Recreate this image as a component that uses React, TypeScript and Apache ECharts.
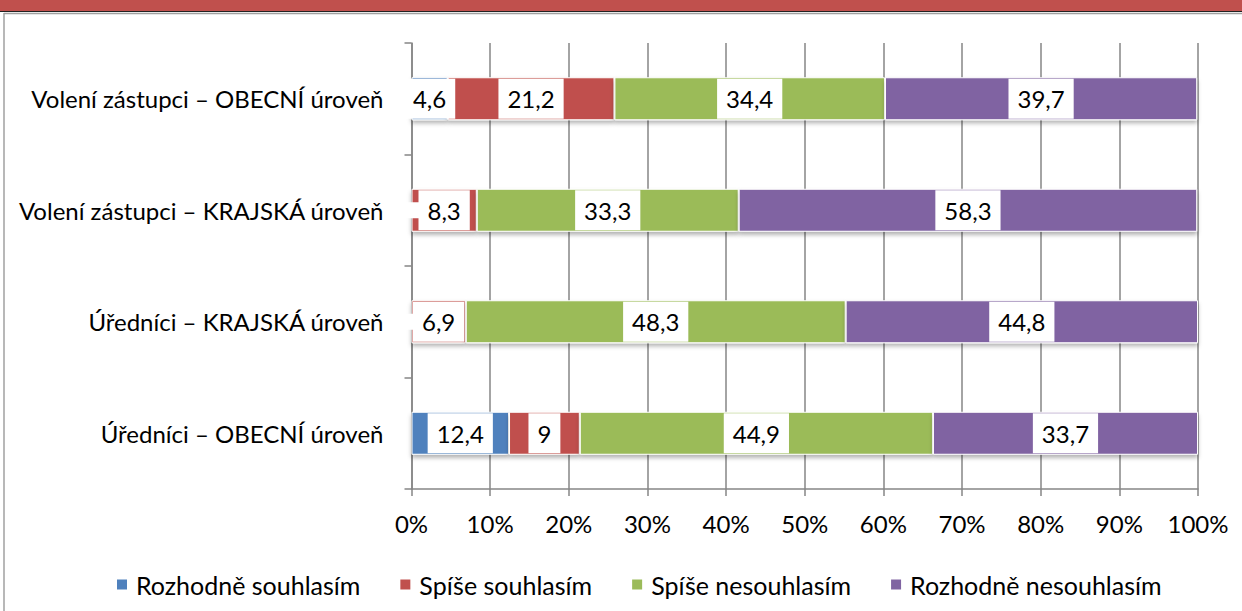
import React, { useEffect, useRef } from "react";
import * as echarts from "echarts";

const categories = [
  "Volení zástupci – OBECNÍ úroveň",
  "Volení zástupci – KRAJSKÁ úroveň",
  "Úředníci – KRAJSKÁ úroveň",
  "Úředníci – OBECNÍ úroveň",
];
const seriesNames = [
  "Rozhodně souhlasím",
  "Spíše souhlasím",
  "Spíše nesouhlasím",
  "Rozhodně nesouhlasím",
];
const rozhodneSouhlasim = [4.6, 0, 0, 12.4];
const spiseSouhlasim = [21.2, 8.3, 6.9, 9];
const spiseNesouhlasim = [34.4, 33.3, 48.3, 44.9];
const rozhodneNesouhlasim = [39.7, 58.3, 44.8, 33.7];
const colors = ["#4F81BD", "#C0504D", "#9BBB59", "#8064A2"];
const xTicks = [0, 10, 20, 30, 40, 50, 60, 70, 80, 90, 100];

const FONT = "Lato";
const FS = 24;

export default function App() {
  const ref = useRef<HTMLDivElement>(null);
  useEffect(() => {
    if (!ref.current) return;
    const chart = echarts.init(ref.current, null, { renderer: "svg" });
    const allData = [rozhodneSouhlasim, spiseSouhlasim, spiseNesouhlasim, rozhodneNesouhlasim];
    const series = allData.map((d, i) => ({
      name: seriesNames[i],
      type: "bar",
      stack: "total",
      barWidth: 43,
      data: d,
      itemStyle: {
        color: colors[i],
        borderColor: "#ffffff",
        borderWidth: 1,
        shadowColor: "rgba(0,0,0,0.3)",
        shadowBlur: 4,
        shadowOffsetY: 3,
      },
      label: {
        show: true,
        position: "inside",
        formatter: (p: any) => (p.value > 0 ? String(p.value).replace(".", ",") : ""),
        backgroundColor: "#ffffff",
        color: "#000000",
        fontFamily: FONT,
        fontSize: FS,
        lineHeight: 24,
        padding: [8, 9, 8, 9],
      },
    }));
    chart.setOption({
      animation: false,
      textStyle: { fontFamily: FONT },
      graphic: [
        { type: "rect", shape: { x: 0, y: 0, width: 1242, height: 11 }, style: { fill: "#C0504D" }, z: 100 },
        { type: "line", shape: { x1: 0, y1: 11.5, x2: 1242, y2: 11.5 }, style: { stroke: "#222", lineWidth: 1 }, z: 100 },
        { type: "line", shape: { x1: 4, y1: 13.5, x2: 1242, y2: 13.5 }, style: { stroke: "#A0A0A0", lineWidth: 1.5 }, z: 100 },
        { type: "line", shape: { x1: 4, y1: 13, x2: 4, y2: 611 }, style: { stroke: "#A0A0A0", lineWidth: 1.5 }, z: 100 },
      ],
      legend: {
        left: 110,
        top: 567,
        icon: "rect",
        itemWidth: 12,
        itemHeight: 12,
        itemGap: 38,
        data: seriesNames,
        textStyle: { fontFamily: FONT, fontSize: 25, color: "#000", padding: [0, 0, 0, 3] },
      },
      grid: { left: 411.5, right: 44, top: 43, bottom: 122 },
      xAxis: {
        type: "value",
        min: 0,
        max: 100,
        interval: 10,
        axisLabel: {
          formatter: (v: number) => (xTicks.includes(v) ? v + "%" : ""),
          fontFamily: FONT,
          fontSize: FS,
          color: "#000",
          margin: 22,
        },
        axisLine: { show: true, lineStyle: { color: "#868686", width: 1.5 } },
        axisTick: { show: true, length: 7, lineStyle: { color: "#868686", width: 1.5 } },
        splitLine: { show: true, lineStyle: { color: "#868686", width: 1.5 } },
      },
      yAxis: {
        type: "category",
        inverse: true,
        data: categories,
        axisLabel: { fontFamily: FONT, fontSize: FS, color: "#000", margin: 28 },
        axisLine: { show: true, lineStyle: { color: "#868686", width: 1.5 } },
        axisTick: { show: true, length: 7, lineStyle: { color: "#868686", width: 1.5 } },
      },
      series,
    });
    return () => chart.dispose();
  }, []);
  return (
    <div
      ref={ref}
      style={{ position: "fixed", left: 0, top: 0, width: 1242, height: 611, background: "#fff" }}
    />
  );
}
